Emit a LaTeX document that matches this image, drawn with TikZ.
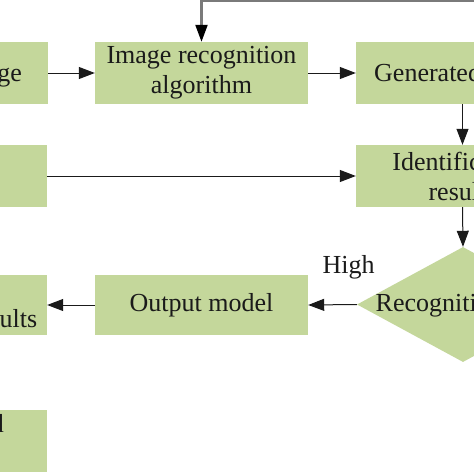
\documentclass[tikz,border=0pt]{standalone}
\usepackage{fontspec}
\setmainfont{Liberation Serif}
\usetikzlibrary{shapes.geometric,arrows.meta}
\definecolor{boxgreen}{HTML}{C4D79B}
\definecolor{ink}{HTML}{1A1A1A}
\definecolor{fbgray}{HTML}{7A7A7A}
\begin{document}
\begin{tikzpicture}[x=1pt,y=-1pt,
  every node/.style={font=\fontsize{26}{30}\selectfont, text=ink},
  flowbox/.style={rectangle, fill=boxgreen, draw=none, minimum width=213pt, minimum height=62pt, inner sep=0pt, align=center},
  decision/.style={diamond, fill=boxgreen, draw=none, minimum width=212pt, minimum height=115pt, inner sep=0pt},
  txt/.style={inner sep=0pt},
  conn/.style={draw=ink, line width=1pt, -{Triangle[length=16pt,width=12pt]}},
  feedback/.style={draw=fbgray, line width=2.2pt, -{Triangle[length=17pt,width=12pt,color=black]}}
]
\useasboundingbox (0,0) rectangle (474,474);
\clip (0,0) rectangle (474,474);
\fill[white] (0,0) rectangle (474,474);

% boxes
\node[flowbox] (orig) at (-58.5,73) {};
\node[flowbox] (algo) at (201.5,73) {Image recognition\\algorithm};
\node[flowbox] (gen) at (462.5,73) {};
\node[flowbox] (left2) at (-59.5,176) {};
\node[flowbox] (ident) at (462.5,176) {Identification\\results};
\node[decision] (rate) at (463,304.5) {};
\node[flowbox, minimum height=60pt] (outm) at (201.5,305) {Output model};
\node[flowbox, minimum height=60pt] (left3) at (-59.5,305) {};
\node[flowbox] (left4) at (-59.5,441) {};

% partially visible texts
\node[txt, anchor=base east] (torig) at (22,81) {image};
\node[txt, anchor=base west] (tgen) at (374,81) {Generated};
\node[txt, anchor=base west] (trate) at (375.5,311) {Recognition};
\node[txt, anchor=base east] (tleft3) at (37.5,327) {results};
\node[txt, anchor=base east] (tleft4) at (4,432) {d};
\node[txt, anchor=base] (high) at (348.5,273) {High};

% connectors
\draw[conn] (orig.east) -- (algo.west);
\draw[conn] (algo.east) -- (gen.west);
\draw[conn] (gen.south) -- (ident.north);
\draw[conn] (left2.east) -- (ident.west);
\draw[conn] (ident.south) -- (rate.north);
\draw[conn] (rate.west) -- (outm.east);
\draw[conn] (outm.west) -- (left3.east);
\coordinate (fb) at (490,1.3);
\draw[feedback] (fb) -| (algo.north);
\end{tikzpicture}
\end{document}
